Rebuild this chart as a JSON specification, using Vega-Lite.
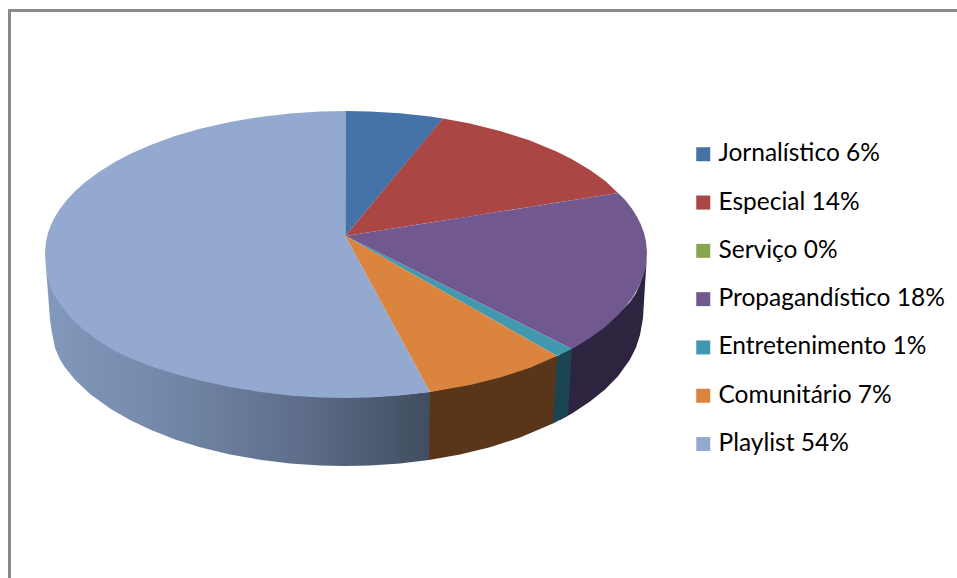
{
  "$schema": "https://vega.github.io/schema/vega-lite/v6.json",
  "width": 957,
  "height": 578,
  "padding": 0,
  "autosize": "none",
  "background": "white",
  "config": {"view": {"stroke": null}},
  "datasets": {
    "frame": [
      {"x": 8, "x2": 957, "y": 10.5, "y2": 10.5},
      {"x": 9.5, "x2": 9.5, "y": 9, "y2": 578}
    ],
    "walls": [
      {"part": "Propagandístico", "x": 560, "y": 354, "y2": 420.1},
      {"part": "Propagandístico", "x": 572, "y": 348, "y2": 413.4},
      {"part": "Propagandístico", "x": 590, "y": 337, "y2": 401.6},
      {"part": "Propagandístico", "x": 605, "y": 326, "y2": 389.5},
      {"part": "Propagandístico", "x": 618, "y": 314, "y2": 376.3},
      {"part": "Propagandístico", "x": 630, "y": 302, "y2": 359.6},
      {"part": "Propagandístico", "x": 636, "y": 293, "y2": 347.6},
      {"part": "Propagandístico", "x": 640, "y": 284, "y2": 335},
      {"part": "Propagandístico", "x": 643, "y": 275, "y2": 318},
      {"part": "Propagandístico", "x": 645, "y": 268, "y2": 285},
      {"part": "Propagandístico", "x": 646, "y": 264, "y2": 270},
      {"part": "Propagandístico", "x": 647, "y": 253, "y2": 255},
      {"part": "Entretenimento", "x": 553, "y": 358, "y2": 423.6},
      {"part": "Entretenimento", "x": 568, "y": 351, "y2": 415.8},
      {"part": "Entretenimento", "x": 572, "y": 349, "y2": 349},
      {"part": "Comunitário", "x": 429, "y": 392, "y2": 460},
      {"part": "Comunitário", "x": 460, "y": 386, "y2": 454.5},
      {"part": "Comunitário", "x": 490, "y": 379, "y2": 447.2},
      {"part": "Comunitário", "x": 520, "y": 370, "y2": 437.6},
      {"part": "Comunitário", "x": 553, "y": 357, "y2": 423.6},
      {"part": "Comunitário", "x": 557, "y": 356, "y2": 356},
      {"part": "Playlist", "x": 45, "y": 253, "y2": 255},
      {"part": "Playlist", "x": 46, "y": 264, "y2": 268},
      {"part": "Playlist", "x": 48, "y": 277, "y2": 293},
      {"part": "Playlist", "x": 50, "y": 284, "y2": 320},
      {"part": "Playlist", "x": 52, "y": 289, "y2": 333},
      {"part": "Playlist", "x": 55, "y": 295, "y2": 348},
      {"part": "Playlist", "x": 60, "y": 303, "y2": 359.6},
      {"part": "Playlist", "x": 65, "y": 310, "y2": 367.4},
      {"part": "Playlist", "x": 75, "y": 321, "y2": 379.7},
      {"part": "Playlist", "x": 90, "y": 333, "y2": 393.9},
      {"part": "Playlist", "x": 110, "y": 347, "y2": 408.5},
      {"part": "Playlist", "x": 130, "y": 357, "y2": 420.1},
      {"part": "Playlist", "x": 150, "y": 365, "y2": 429.6},
      {"part": "Playlist", "x": 175, "y": 373, "y2": 439.4},
      {"part": "Playlist", "x": 200, "y": 380, "y2": 447.2},
      {"part": "Playlist", "x": 230, "y": 386, "y2": 454.5},
      {"part": "Playlist", "x": 260, "y": 391, "y2": 459.8},
      {"part": "Playlist", "x": 290, "y": 395, "y2": 463.4},
      {"part": "Playlist", "x": 320, "y": 397, "y2": 465.5},
      {"part": "Playlist", "x": 345, "y": 397, "y2": 466},
      {"part": "Playlist", "x": 370, "y": 397, "y2": 465.5},
      {"part": "Playlist", "x": 400, "y": 395, "y2": 463.4},
      {"part": "Playlist", "x": 429, "y": 392, "y2": 460},
      {"part": "Playlist", "x": 430, "y": 392, "y2": 392}
    ],
    "slices": [
      {"slice": "Playlist 54%", "x": 45, "y": 253, "y2": 253},
      {"slice": "Playlist 54%", "x": 46, "y": 241.4, "y2": 265},
      {"slice": "Playlist 54%", "x": 48, "y": 233, "y2": 278},
      {"slice": "Playlist 54%", "x": 51, "y": 224.8, "y2": 288},
      {"slice": "Playlist 54%", "x": 55, "y": 216.7, "y2": 296},
      {"slice": "Playlist 54%", "x": 60, "y": 208.7, "y2": 304},
      {"slice": "Playlist 54%", "x": 67, "y": 199.7, "y2": 313},
      {"slice": "Playlist 54%", "x": 75, "y": 191.2, "y2": 322},
      {"slice": "Playlist 54%", "x": 85, "y": 182.3, "y2": 331},
      {"slice": "Playlist 54%", "x": 100, "y": 171.2, "y2": 342},
      {"slice": "Playlist 54%", "x": 115, "y": 162, "y2": 351},
      {"slice": "Playlist 54%", "x": 130, "y": 154.1, "y2": 358},
      {"slice": "Playlist 54%", "x": 150, "y": 145.2, "y2": 366},
      {"slice": "Playlist 54%", "x": 175, "y": 136.1, "y2": 374},
      {"slice": "Playlist 54%", "x": 200, "y": 128.8, "y2": 380.5},
      {"slice": "Playlist 54%", "x": 230, "y": 122, "y2": 387},
      {"slice": "Playlist 54%", "x": 260, "y": 116.9, "y2": 392},
      {"slice": "Playlist 54%", "x": 290, "y": 113.5, "y2": 395.5},
      {"slice": "Playlist 54%", "x": 320, "y": 111.5, "y2": 397.5},
      {"slice": "Playlist 54%", "x": 345.5, "y": 111, "y2": 398},
      {"slice": "Playlist 54%", "x": 345.6, "y": 236, "y2": 398},
      {"slice": "Playlist 54%", "x": 370, "y": 281.2, "y2": 397.5},
      {"slice": "Playlist 54%", "x": 400, "y": 336.6, "y2": 395.6},
      {"slice": "Playlist 54%", "x": 430, "y": 392, "y2": 392},

      {"slice": "Jornalístico 6%", "x": 345.5, "y": 111, "y2": 236},
      {"slice": "Jornalístico 6%", "x": 370, "y": 111.5, "y2": 206.6},
      {"slice": "Jornalístico 6%", "x": 400, "y": 113.3, "y2": 170.6},
      {"slice": "Jornalístico 6%", "x": 430, "y": 116.6, "y2": 134.6},
      {"slice": "Jornalístico 6%", "x": 443, "y": 118.6, "y2": 118.6},

      {"slice": "Especial 14%", "x": 345.5, "y": 236, "y2": 236},
      {"slice": "Especial 14%", "x": 443, "y": 118.6, "y2": 220.6},
      {"slice": "Especial 14%", "x": 470, "y": 123.6, "y2": 216.4},
      {"slice": "Especial 14%", "x": 500, "y": 131, "y2": 211.6},
      {"slice": "Especial 14%", "x": 530, "y": 140.6, "y2": 206.9},
      {"slice": "Especial 14%", "x": 557, "y": 151.7, "y2": 202.6},
      {"slice": "Especial 14%", "x": 572, "y": 159.2, "y2": 200.3},
      {"slice": "Especial 14%", "x": 590, "y": 169.9, "y2": 197.4},
      {"slice": "Especial 14%", "x": 605, "y": 180.7, "y2": 195},
      {"slice": "Especial 14%", "x": 618, "y": 193, "y2": 193},

      {"slice": "Propagandístico 18%", "x": 345.5, "y": 236, "y2": 236},
      {"slice": "Propagandístico 18%", "x": 572, "y": 200.3, "y2": 349},
      {"slice": "Propagandístico 18%", "x": 590, "y": 197.4, "y2": 337.9},
      {"slice": "Propagandístico 18%", "x": 605, "y": 195, "y2": 326.9},
      {"slice": "Propagandístico 18%", "x": 618, "y": 193, "y2": 315.1},
      {"slice": "Propagandístico 18%", "x": 625, "y": 199.7, "y2": 307.4},
      {"slice": "Propagandístico 18%", "x": 632, "y": 208.7, "y2": 298.2},
      {"slice": "Propagandístico 18%", "x": 637, "y": 216.7, "y2": 290.1},
      {"slice": "Propagandístico 18%", "x": 641, "y": 224.8, "y2": 281.8},
      {"slice": "Propagandístico 18%", "x": 644, "y": 233, "y2": 273.4},
      {"slice": "Propagandístico 18%", "x": 646, "y": 241.4, "y2": 264.8},
      {"slice": "Propagandístico 18%", "x": 647, "y": 253, "y2": 253},

      {"slice": "Entretenimento 1%", "x": 345.5, "y": 236, "y2": 236},
      {"slice": "Entretenimento 1%", "x": 557, "y": 341.5, "y2": 356},
      {"slice": "Entretenimento 1%", "x": 572, "y": 349, "y2": 349},

      {"slice": "Comunitário 7%", "x": 345.5, "y": 236, "y2": 236},
      {"slice": "Comunitário 7%", "x": 430, "y": 283.9, "y2": 392},
      {"slice": "Comunitário 7%", "x": 470, "y": 306.6, "y2": 385.1},
      {"slice": "Comunitário 7%", "x": 500, "y": 323.7, "y2": 377.6},
      {"slice": "Comunitário 7%", "x": 530, "y": 340.7, "y2": 367.8},
      {"slice": "Comunitário 7%", "x": 557, "y": 356, "y2": 356}
    ]
  },
  "encoding": {
    "x": {"field": "x", "type": "quantitative", "axis": null, "scale": {"domain": [0, 957], "nice": false, "zero": false}},
    "y": {"field": "y", "type": "quantitative", "axis": null, "scale": {"domain": [578, 0], "nice": false, "zero": false}},
    "y2": {"field": "y2"}
  },
  "layer": [
    {
      "data": {"name": "frame"},
      "mark": {"type": "rule", "color": "#8a8a8a", "strokeWidth": 3},
      "encoding": {"x2": {"field": "x2"}}
    },
    {
      "data": {"name": "walls"},
      "transform": [{"filter": "datum.part === 'Propagandístico'"}],
      "mark": {"type": "area", "fill": "#2e2440"}
    },
    {
      "data": {"name": "walls"},
      "transform": [{"filter": "datum.part === 'Entretenimento'"}],
      "mark": {"type": "area", "fill": "#1b4550"}
    },
    {
      "data": {"name": "walls"},
      "transform": [{"filter": "datum.part === 'Comunitário'"}],
      "mark": {"type": "area", "fill": "#59361a"}
    },
    {
      "data": {"name": "walls"},
      "transform": [{"filter": "datum.part === 'Playlist'"}],
      "mark": {
        "type": "area",
        "fill": {
          "gradient": "linear",
          "x1": 0, "y1": 0, "x2": 1, "y2": 0,
          "stops": [
            {"offset": 0, "color": "#8299bd"},
            {"offset": 0.3, "color": "#7489aa"},
            {"offset": 0.65, "color": "#5f6f8b"},
            {"offset": 1, "color": "#414d5f"}
          ]
        }
      }
    },
    {
      "data": {"name": "slices"},
      "mark": {"type": "area", "strokeWidth": 0.5},
      "encoding": {
        "color": {
          "field": "slice",
          "type": "nominal",
          "scale": {
            "domain": ["Jornalístico 6%", "Especial 14%", "Serviço 0%", "Propagandístico 18%", "Entretenimento 1%", "Comunitário 7%", "Playlist 54%"],
            "range": ["#4572a7", "#aa4643", "#89a54e", "#71588f", "#4198af", "#db843d", "#93a9cf"]
          },
          "legend": {
            "title": null,
            "orient": "none",
            "legendX": 691,
            "legendY": 142,
            "symbolType": "square",
            "symbolSize": 196,
            "symbolStrokeWidth": 0,
            "symbolOpacity": 1,
            "labelFont": "Lato",
            "labelFontSize": 24.5,
            "labelColor": "#000000",
            "labelOffset": 3,
            "labelLimit": 300,
            "rowPadding": 23.3,
            "values": ["Jornalístico 6%", "Especial 14%", "Serviço 0%", "Propagandístico 18%", "Entretenimento 1%", "Comunitário 7%", "Playlist 54%"]
          }
        }
      }
    }
  ]
}
